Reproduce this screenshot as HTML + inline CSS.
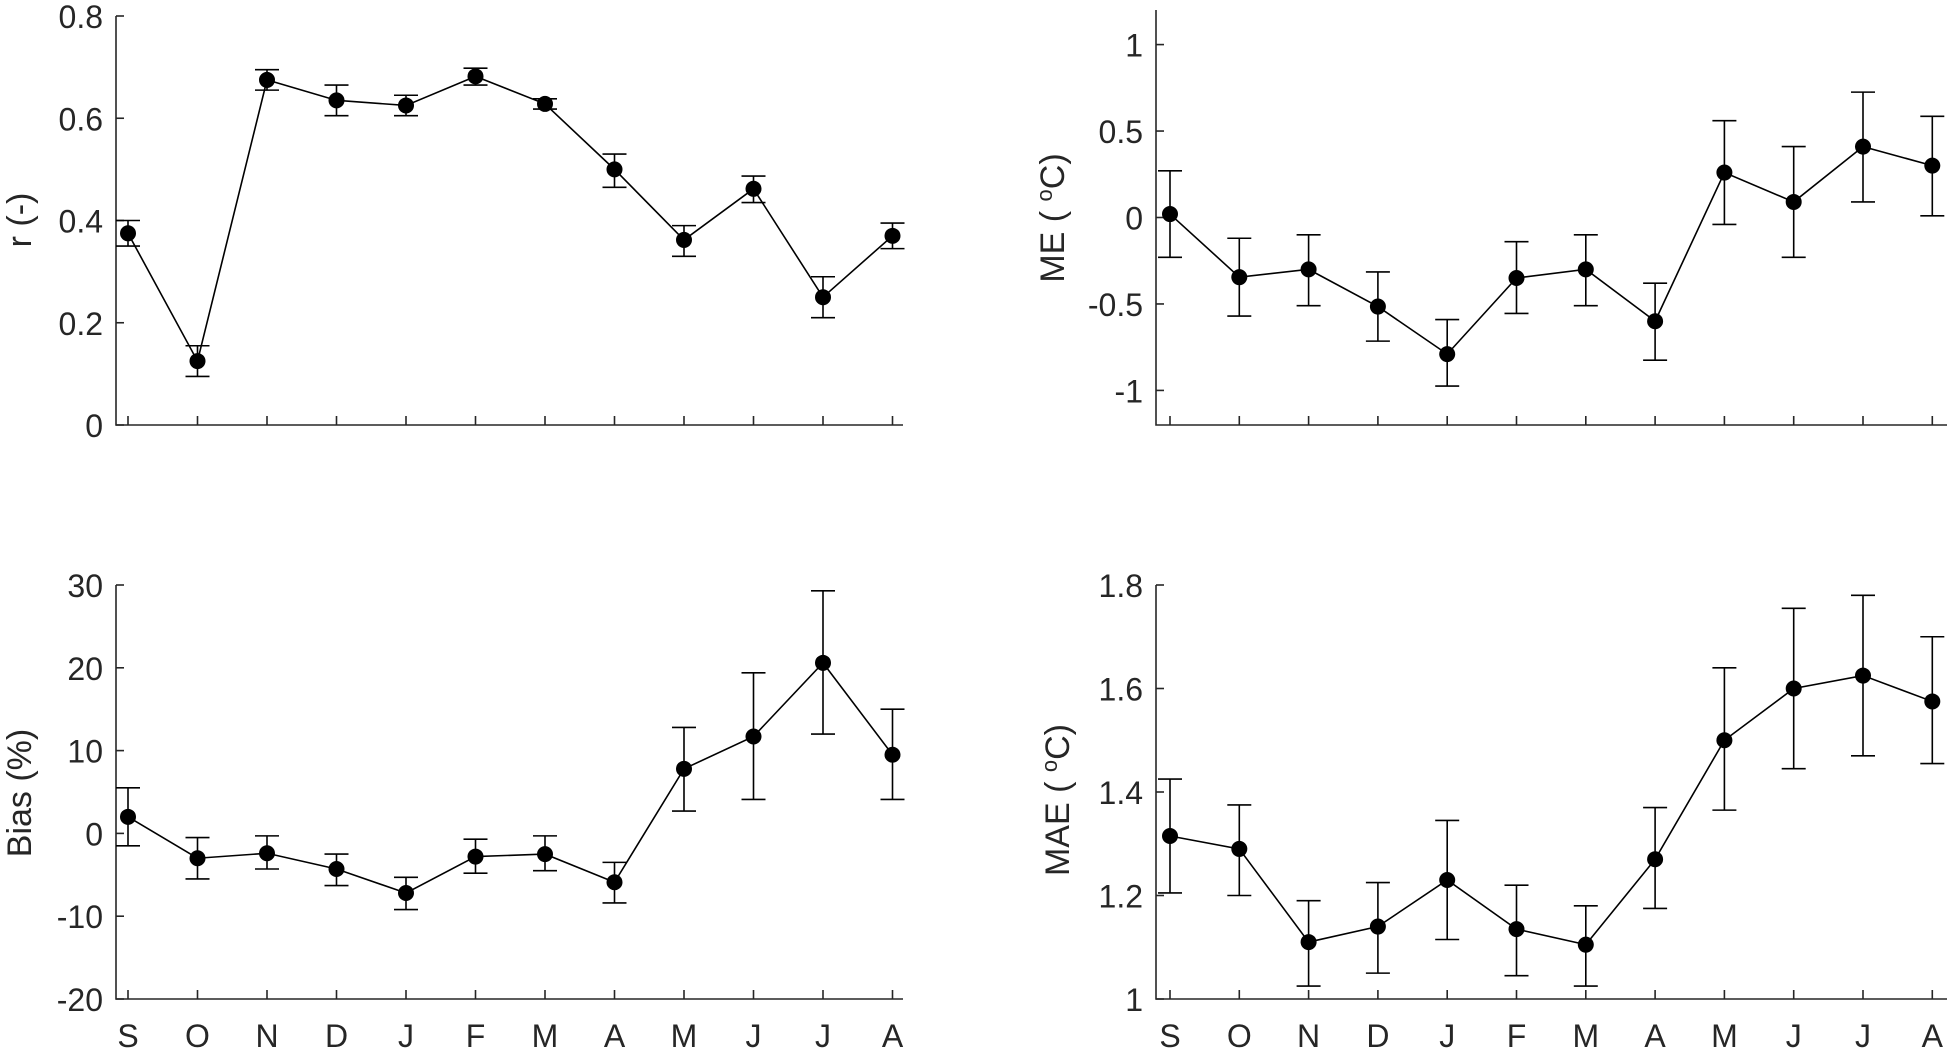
<!DOCTYPE html>
<html><head><meta charset="utf-8"><style>
html,body{margin:0;padding:0;background:#fff;}
svg{display:block;font-family:"Liberation Sans",Arial,sans-serif;}
</style></head><body>
<svg id="fig" width="1952" height="1048" viewBox="0 0 1952 1048" xmlns="http://www.w3.org/2000/svg"></svg>
<script>
const months = ["S","O","N","D","J","F","M","A","M","J","J","A"];
const rVals = [0.375,0.125,0.675,0.635,0.625,0.682,0.628,0.50,0.362,0.462,0.25,0.37];
const rLo = [0.35,0.095,0.655,0.605,0.605,0.665,0.618,0.465,0.33,0.435,0.21,0.345];
const rHi = [0.40,0.155,0.695,0.665,0.645,0.698,0.638,0.53,0.39,0.487,0.29,0.395];
const meVals = [0.02,-0.345,-0.30,-0.515,-0.79,-0.35,-0.30,-0.60,0.26,0.09,0.41,0.30];
const meLo = [-0.23,-0.57,-0.51,-0.715,-0.975,-0.555,-0.51,-0.825,-0.04,-0.23,0.09,0.01];
const meHi = [0.27,-0.12,-0.10,-0.315,-0.59,-0.14,-0.10,-0.38,0.56,0.41,0.725,0.585];
const biasVals = [2,-3,-2.4,-4.3,-7.2,-2.8,-2.5,-5.9,7.8,11.7,20.6,9.5];
const biasLo = [-1.5,-5.5,-4.3,-6.3,-9.2,-4.8,-4.5,-8.4,2.7,4.1,12,4.1];
const biasHi = [5.5,-0.5,-0.3,-2.5,-5.3,-0.7,-0.3,-3.5,12.8,19.4,29.3,15];
const maeVals = [1.315,1.29,1.11,1.14,1.23,1.135,1.105,1.27,1.50,1.60,1.625,1.575];
const maeLo = [1.205,1.20,1.025,1.05,1.115,1.045,1.025,1.175,1.365,1.445,1.47,1.455];
const maeHi = [1.425,1.375,1.19,1.225,1.345,1.22,1.18,1.37,1.64,1.755,1.78,1.70];
const rTicks = [0,0.2,0.4,0.6,0.8];
const rTickLabels = ["0","0.2","0.4","0.6","0.8"];
const meTicks = [-1,-0.5,0,0.5,1];
const meTickLabels = ["-1","-0.5","0","0.5","1"];
const biasTicks = [-20,-10,0,10,20,30];
const biasTickLabels = ["-20","-10","0","10","20","30"];
const maeTicks = [1,1.2,1.4,1.6,1.8];
const maeTickLabels = ["1","1.2","1.4","1.6","1.8"];

const NS="http://www.w3.org/2000/svg";
const svg=document.getElementById('fig');
function mk(tag,attrs,parent){const e=document.createElementNS(NS,tag);for(const k in attrs)e.setAttribute(k,attrs[k]);(parent||svg).appendChild(e);return e;}

function panel(cfg){
  const g=mk('g',{});
  
  
  const x=i=>cfg.x0+i*cfg.dx;
  const y=v=>cfg.yb-(v-cfg.ymin)/(cfg.ymax-cfg.ymin)*(cfg.yb-cfg.yt);
  const ax=mk('path',{d:`M${cfg.ax} ${cfg.yt} V${cfg.yb} H${cfg.axEnd}`,stroke:'#262626','stroke-width':1.6,fill:'none'},g);
  
  
  cfg.ticks.forEach((t,i)=>{
    const yy=y(t);
    const tk=mk('line',{x1:cfg.ax,x2:cfg.ax+8,y1:yy,y2:yy,stroke:'#262626','stroke-width':1.6},g);
    
    
    const tl=mk('text',{x:cfg.ax-13,y:yy+12,'text-anchor':'end','font-size':32,fill:'#262626'},g);
    tl.textContent=cfg.tickLabels[i];
    
    
  });
  months.forEach((m,i)=>{
    const xx=x(i);
    const tk=mk('line',{x1:xx,x2:xx,y1:cfg.yb,y2:cfg.yb-9,stroke:'#262626','stroke-width':1.6},g);
    
    
    if(cfg.showX){
      const tl=mk('text',{x:xx,y:cfg.yb+48,'text-anchor':'middle','font-size':32,fill:'#262626'},g);
      tl.textContent=m;
      
      
    }
  });
  const lab=mk('text',{x:0,y:0,'text-anchor':'middle','font-size':34,fill:'#262626',transform:`translate(${cfg.labX},${cfg.labY}) rotate(-90)`},g);
  lab.setAttribute('xml:space','preserve');
  lab.innerHTML=cfg.label;
  
  
  const pts=cfg.vals.map((v,i)=>`${x(i)},${y(v)}`).join(' ');
  const ln=mk('polyline',{points:pts,fill:'none',stroke:'#000','stroke-width':1.6},g);
  
  
  cfg.vals.forEach((v,i)=>{
    const xx=x(i),lo=y(cfg.lo[i]),hi=y(cfg.hi[i]);
    const eb=mk('path',{d:`M${xx} ${lo} V${hi} M${xx-12} ${lo} H${xx+12} M${xx-12} ${hi} H${xx+12}`,stroke:'#000','stroke-width':1.6,fill:'none'},g);
    
    
    const c=mk('circle',{cx:xx,cy:y(v),r:8,fill:'#000'},g);
    
    
  });
}
const deg='<tspan font-size="22" dy="-12">o</tspan><tspan dy="12">C)</tspan>';
panel({name:'r-panel',ax:116,axEnd:903,x0:128,dx:69.5,yt:16,yb:425,ymin:0,ymax:0.8,ticks:rTicks,tickLabels:rTickLabels,vals:rVals,lo:rLo,hi:rHi,label:'r  (-)',labX:31,labY:220,showX:false});
panel({name:'me-panel',ax:1156,axEnd:1947,x0:1170,dx:69.3,yt:10,yb:425,ymin:-1.2,ymax:1.2,ticks:meTicks,tickLabels:meTickLabels,vals:meVals,lo:meLo,hi:meHi,label:'ME  ( '+deg,labX:1064,labY:218,showX:false});
panel({name:'bias-panel',ax:116,axEnd:903,x0:128,dx:69.5,yt:585,yb:999,ymin:-20,ymax:30,ticks:biasTicks,tickLabels:biasTickLabels,vals:biasVals,lo:biasLo,hi:biasHi,label:'Bias  (%)',labX:31,labY:793,showX:true});
panel({name:'mae-panel',ax:1156,axEnd:1947,x0:1170,dx:69.3,yt:585,yb:999,ymin:1,ymax:1.8,ticks:maeTicks,tickLabels:maeTickLabels,vals:maeVals,lo:maeLo,hi:maeHi,label:'MAE ( '+deg,labX:1069,labY:800,showX:true});
</script>
</body></html>
